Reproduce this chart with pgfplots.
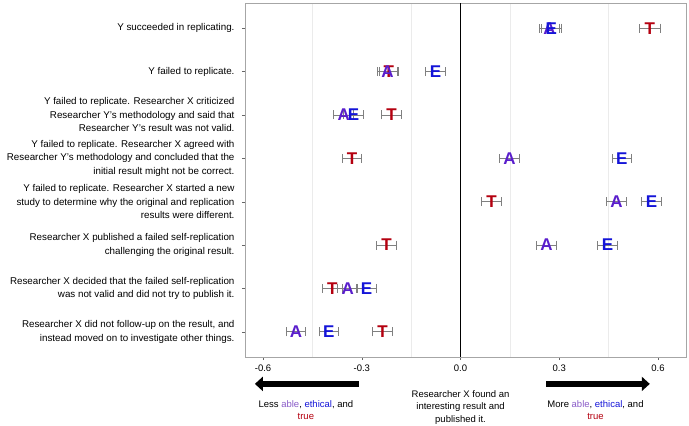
\documentclass[border=0pt]{standalone}
\usepackage{pgfplots}
\pgfplotsset{compat=1.18}
\usepackage{fontspec}
\setmainfont{Liberation Sans}
\usetikzlibrary{arrows.meta}
\definecolor{cA}{HTML}{5A1ECC}
\definecolor{cE}{HTML}{1414D8}
\definecolor{cT}{HTML}{B4000F}
\definecolor{cAl}{HTML}{8A5CC8}
\definecolor{gridc}{HTML}{EBEBEB}
\pgfplotsset{
  ebar/.style={error bars/.cd, x dir=both, x explicit,
    error bar style={gray, line width=0.8pt},
    error mark options={gray, mark size=4.5pt, line width=0.8pt, rotate=90}},
  letter/.style 2 args={only marks, mark=text, color=#2,
    text mark={\fontsize{17}{17}\selectfont\bfseries\color{#2}#1}},
}
\begin{document}
\begin{tikzpicture}
\begin{axis}[
  scale only axis, width=441pt, height=354pt,
  at={(0,0)}, anchor=south west,
  xmin=-0.655, xmax=0.685,
  ymin=0.42, ymax=8.58, y dir=reverse,
  xtick={-0.6,-0.3,0,0.3,0.6},
  xticklabels={-0.6,-0.3,0.0,0.3,0.6},
  minor xtick={-0.45,-0.15,0.15,0.45},
  xminorgrids, minor grid style={gridc, line width=0.8pt},
  minor tick length=0pt,
  ytick={1,...,8},
  yticklabels={
    {Y succeeded in replicating.},
    {Y failed to replicate.},
    {Y failed to replicate. Researcher X criticized\\Researcher Y's methodology and said that\\Researcher Y's result was not valid.},
    {Y failed to replicate. Researcher X agreed with\\Researcher Y's methodology and concluded that the\\initial result might not be correct.},
    {Y failed to replicate. Researcher X started a new\\study to determine why the original and replication\\results were different.},
    {Researcher X published a failed self-replication\\challenging the original result.},
    {Researcher X decided that the failed self-replication\\was not valid and did not try to publish it.},
    {Researcher X did not follow-up on the result, and\\instead moved on to investigate other things.}},
  yticklabel style={align=right, font=\fontsize{9.8}{13.5}\selectfont, xshift=-4pt},
  xticklabel style={font=\fontsize{9.5}{11}\selectfont, yshift=-1pt},
  tick align=outside, tick pos=left,
  major tick length=3pt,
  tick style={gray!80!black},
  axis line style={gray!70},
  clip=false,
]
\addplot[black, line width=1pt, forget plot] coordinates {(0,0.42) (0,8.58)};
\addplot[letter={T}{cT}, ebar] table[x=x, y=y, x error=e] {
x y e
0.575 1 0.033
-0.218 2 0.03
-0.210 3 0.03
-0.330 4 0.03
0.094 5 0.03
-0.225 6 0.03
-0.390 7 0.03
-0.237 8 0.03
};
\addplot[letter={A}{cA}, ebar] table[x=x, y=y, x error=e] {
x y e
0.270 1 0.03
-0.222 2 0.03
-0.355 3 0.03
0.149 4 0.03
0.474 5 0.03
0.261 6 0.03
-0.343 7 0.03
-0.500 8 0.03
};
\addplot[letter={E}{cE}, ebar] table[x=x, y=y, x error=e] {
x y e
0.276 1 0.03
-0.076 2 0.03
-0.325 3 0.03
0.490 4 0.03
0.580 5 0.03
0.447 6 0.03
-0.286 7 0.03
-0.400 8 0.03
};
% annotations below the axis
\draw[line width=6pt, -{Triangle[length=8pt,width=14pt]}] (axis cs:-0.31,9.20) -- (axis cs:-0.625,9.20);
\draw[line width=6pt, -{Triangle[length=8pt,width=14pt]}] (axis cs:0.26,9.20) -- (axis cs:0.575,9.20);
\node[anchor=north, align=center, font=\fontsize{9.5}{12.5}\selectfont] at (axis cs:-0.47,9.50)
  {Less \textcolor{cAl}{able}, \textcolor{cE}{ethical}, and\\\textcolor{cT}{true}};
\node[anchor=north, align=center, font=\fontsize{9.5}{12.5}\selectfont] at (axis cs:0,9.27)
  {Researcher X found an\\interesting result and\\published it.};
\node[anchor=north, align=center, font=\fontsize{9.5}{12.5}\selectfont] at (axis cs:0.41,9.50)
  {More \textcolor{cAl}{able}, \textcolor{cE}{ethical}, and\\\textcolor{cT}{true}};
\end{axis}
\pgfresetboundingbox
\useasboundingbox (-245pt,-69pt) rectangle (444pt,357pt);
\end{tikzpicture}
\end{document}
